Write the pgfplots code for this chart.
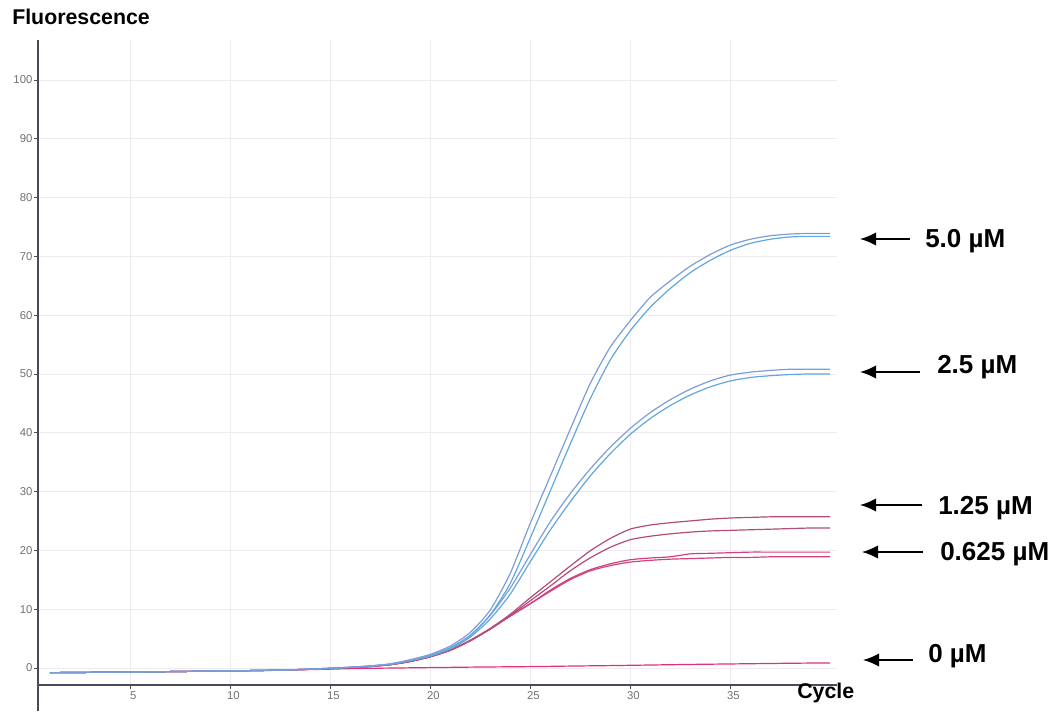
\documentclass[border=0pt]{standalone}
\usepackage{pgfplots}
\pgfplotsset{compat=1.18}
\usepackage{pgfplotstable}
\usepackage{fontspec}
\setmainfont{Liberation Sans}
\usetikzlibrary{arrows.meta}
\definecolor{axisc}{HTML}{4A4A58}
\definecolor{gridc}{HTML}{EEEAF0}
\definecolor{tickc}{HTML}{707070}
\definecolor{blueA}{HTML}{62A8DA}
\definecolor{blueB}{HTML}{7C9ED8}
\definecolor{pinkA}{HTML}{B24C7A}
\definecolor{pinkB}{HTML}{D2407E}
\definecolor{pinkZ}{HTML}{E0307C}

\pgfplotstableread{
cyc A B C D E F G H Z
1 -0.80 -0.80 -0.80 -0.80 -0.80 -0.80 -0.80 -0.80 -0.80
2 -0.78 -0.78 -0.78 -0.78 -0.78 -0.78 -0.78 -0.78 -0.78
3 -0.75 -0.75 -0.75 -0.75 -0.75 -0.75 -0.75 -0.75 -0.75
4 -0.72 -0.72 -0.72 -0.72 -0.72 -0.72 -0.72 -0.72 -0.72
5 -0.70 -0.70 -0.70 -0.70 -0.70 -0.70 -0.70 -0.70 -0.70
6 -0.66 -0.66 -0.66 -0.66 -0.66 -0.66 -0.66 -0.66 -0.66
7 -0.62 -0.62 -0.62 -0.62 -0.62 -0.62 -0.62 -0.62 -0.62
8 -0.58 -0.58 -0.58 -0.58 -0.58 -0.58 -0.58 -0.58 -0.58
9 -0.54 -0.54 -0.54 -0.54 -0.54 -0.54 -0.54 -0.54 -0.54
10 -0.50 -0.50 -0.50 -0.50 -0.50 -0.50 -0.50 -0.50 -0.50
11 -0.45 -0.45 -0.45 -0.45 -0.45 -0.45 -0.45 -0.45 -0.46
12 -0.40 -0.40 -0.40 -0.40 -0.40 -0.40 -0.40 -0.40 -0.42
13 -0.32 -0.32 -0.32 -0.32 -0.32 -0.32 -0.32 -0.32 -0.36
14 -0.20 -0.20 -0.20 -0.20 -0.22 -0.22 -0.22 -0.22 -0.28
15 -0.05 -0.05 -0.05 -0.05 -0.10 -0.10 -0.10 -0.10 -0.20
16 0.12 0.12 0.12 0.10 0.05 0.05 0.05 0.05 -0.12
17 0.35 0.33 0.33 0.30 0.25 0.25 0.25 0.25 -0.06
18 0.70 0.65 0.65 0.60 0.55 0.55 0.55 0.55 -0.02
19 1.4 1.3 1.3 1.2 1.1 1.1 1.1 1.1 0.02
20 2.3 2.1 2.1 2.0 1.9 1.9 1.9 1.9 0.06
21 3.7 3.4 3.4 3.2 3.0 3.0 3.0 3.0 0.10
22 6.0 5.5 5.5 5.2 4.7 4.6 4.6 4.6 0.14
23 9.8 9.0 8.9 8.3 6.7 6.6 6.6 6.6 0.17
24 16.0 14.3 13.5 12.5 9.1 8.9 8.8 8.8 0.20
25 24.5 22.0 19.2 18.0 11.9 11.4 10.9 10.9 0.23
26 32.5 30.0 24.8 23.4 14.6 13.9 13.2 13.0 0.27
27 40.5 38.0 29.6 28.2 17.3 16.5 15.2 15.0 0.32
28 48.3 45.7 33.8 32.6 19.9 18.7 16.7 16.5 0.36
29 54.5 52.3 37.5 36.4 22.0 20.5 17.7 17.4 0.40
30 59.0 57.3 40.7 39.7 23.6 21.8 18.4 18.0 0.45
31 63.0 61.3 43.4 42.4 24.3 22.4 18.7 18.3 0.50
32 65.8 64.5 45.6 44.6 24.7 22.8 18.9 18.5 0.55
33 68.3 67.2 47.4 46.4 25.0 23.1 19.4 18.6 0.60
34 70.3 69.3 48.8 47.8 25.3 23.3 19.5 18.7 0.64
35 71.9 71.0 49.8 48.8 25.5 23.4 19.6 18.8 0.68
36 72.9 72.2 50.3 49.4 25.6 23.5 19.7 18.8 0.72
37 73.5 72.9 50.6 49.7 25.7 23.6 19.7 18.9 0.76
38 73.8 73.3 50.8 49.9 25.7 23.7 19.7 18.9 0.80
39 73.9 73.4 50.8 50.0 25.7 23.8 19.7 18.9 0.83
40 73.9 73.4 50.8 50.0 25.7 23.8 19.7 18.9 0.85
}\qpcr

\begin{document}
\begin{tikzpicture}
\begin{axis}[
  name=ax,
  at={(28.5pt,19.5pt)}, anchor=south west,
  scale only axis,
  width=599.25pt, height=483.75pt,
  xmin=0.4, xmax=40.35, ymin=-2.9, ymax=106.8,
  axis x line=bottom, axis y line=left,
  axis line style={draw=axisc, line width=1.1pt, -},
  x axis line style={-}, y axis line style={-},
  xtick={5,10,...,35}, ytick={0,10,...,100},
  tick align=outside, major tick length=3pt,
  tick style={draw=axisc, line width=0.6pt},
  grid=major, grid style={draw=gridc, line width=0.6pt},
  ticklabel style={font=\fontsize{8.5}{9}\selectfont, text=tickc},
  xticklabel style={xshift=2.5pt, inner sep=1.5pt},
  yticklabel style={inner sep=1pt},
  /pgf/number format/assume math mode=true,
]
\addplot[pinkZ, line width=0.9pt, smooth, tension=0.4] table[x=cyc,y=Z]{\qpcr};
\addplot[pinkB, line width=0.9pt, smooth, tension=0.4] table[x=cyc,y=H]{\qpcr};
\addplot[pinkB, line width=0.9pt, smooth, tension=0.4] table[x=cyc,y=G]{\qpcr};
\addplot[pinkA, line width=0.9pt, smooth, tension=0.4] table[x=cyc,y=F]{\qpcr};
\addplot[pinkA, line width=0.9pt, smooth, tension=0.4] table[x=cyc,y=E]{\qpcr};
\addplot[blueA, line width=0.9pt, smooth, tension=0.4] table[x=cyc,y=D]{\qpcr};
\addplot[blueB, line width=0.9pt, smooth, tension=0.4] table[x=cyc,y=C]{\qpcr};
\addplot[blueA, line width=0.9pt, smooth, tension=0.4] table[x=cyc,y=B]{\qpcr};
\addplot[blueB, line width=0.9pt, smooth, tension=0.4] table[x=cyc,y=A]{\qpcr};
\end{axis}
\draw[axisc, line width=1.1pt] (ax.south west) -- (ax.south west |- 0,0);
\node[anchor=base west, inner sep=0pt, font=\fontsize{16}{16}\selectfont\bfseries] at (9pt,514.5pt) {Fluorescence};
\node[anchor=base west, inner sep=0pt, font=\fontsize{16}{16}\selectfont\bfseries] at (597.75pt,9.75pt) {Cycle};
\tikzset{lab/.style={anchor=base west, inner sep=0pt, font=\fontsize{19.5}{20}\selectfont\bfseries},
         arr/.style={{Latex[length=12pt,width=10pt]}-, line width=1.3pt, black}}
\draw[arr] (645pt,354pt) -- (682.5pt,354pt);
\node[lab] at (693.75pt,347.75pt) {5.0 µM};
\draw[arr] (645pt,254.25pt) -- (690pt,254.25pt);
\node[lab] at (702.75pt,253.25pt) {2.5 µM};
\draw[arr] (645pt,154.5pt) -- (691.5pt,154.5pt);
\node[lab] at (703.5pt,147.5pt) {1.25 µM};
\draw[arr] (646.5pt,119.25pt) -- (692.25pt,119.25pt);
\node[lab] at (705pt,113pt) {0.625 µM};
\draw[arr] (647.25pt,38.25pt) -- (684.75pt,38.25pt);
\node[lab] at (696pt,36.5pt) {0 µM};
\pgfresetboundingbox
\useasboundingbox (0,0) rectangle (794.25pt,533.25pt);
\end{tikzpicture}
\end{document}
